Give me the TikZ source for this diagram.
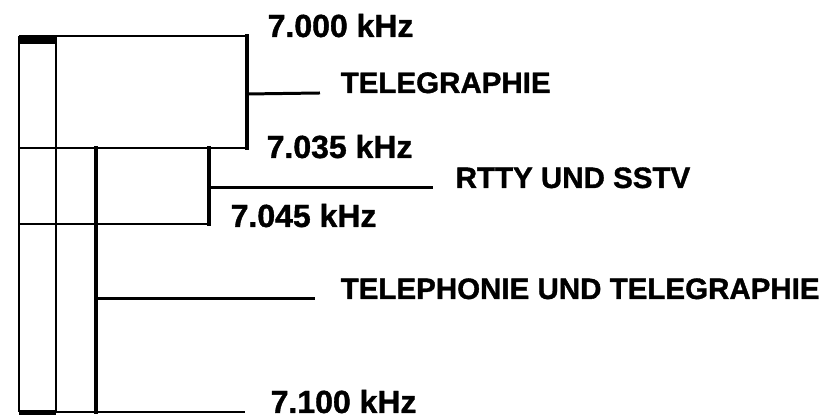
\documentclass[tikz,border=0pt]{standalone}
\usepackage{fontspec}
\setmainfont{Liberation Sans}[BoldFeatures={FakeBold=1.2}]
\begin{document}
\begin{tikzpicture}[
        thinline/.style={line width=0.55pt},
        thickline/.style={line width=1pt, line cap=rect},
        tickline/.style={line width=0.85pt},
        freq/.style={anchor=base west, inner sep=0pt, font=\fontsize{9.1}{10}\selectfont\bfseries},
        band/.style={anchor=base west, inner sep=0pt, font=\fontsize{8.4}{10}\selectfont\bfseries}]
        \useasboundingbox (0,0) rectangle (8.27,4.16);
        % Frequenzen und Bereiche
        \node[freq] (f7000) at (2.67,3.79) {7.000 kHz};
        \node[freq] (f7035) at (2.66,2.58) {7.035 kHz};
        \node[freq] (f7045) at (2.30,1.89) {7.045 kHz};
        \node[freq] (f7100) at (2.70,0.03) {7.100 kHz};
        \node[band] (telegraphie) at (3.40,3.23) {TELEGRAPHIE};
        \node[band] (rtty) at (4.55,2.28) {RTTY UND SSTV};
        \node[band] (telephonie) at (3.40,1.17) {TELEPHONIE UND TELEGRAPHIE};
        % linke Spalten
        \draw [thinline] (0.19,3.80) -- (0.19,0.04);
        \draw [thinline] (0.56,3.80) -- (0.56,0.04);
        \fill [black] (0.19,3.72) rectangle (0.56,3.81);
        \fill [black] (0.19,0.01) rectangle (0.56,0.06);
        % Telegraphie
        \draw [thinline] (0.19,3.80) -- (2.47,3.80);
        \draw [thickline] (2.47,3.80) -- (2.47,2.68);
        \draw [thinline] (0.19,2.68) -- (2.47,2.68);
        \draw [tickline] (2.47,3.22) -- ([xshift=-2.0mm]telegraphie.base west);
        % RTTY und SSTV
        \draw [thickline] (2.09,2.68) -- (2.09,1.92);
        \draw [thinline] (0.19,1.92) -- (2.09,1.92);
        \draw [tickline] (2.09,2.28) -- ([xshift=-2.2mm]rtty.base west);
        % Telephonie und Telegraphie
        \draw [thickline] (0.96,2.68) -- (0.96,0.04);
        \draw [thinline] (0.19,0.04) -- (2.45,0.04);
        \draw [tickline] (0.96,1.17) -- ([xshift=-2.5mm]telephonie.base west);
    \end{tikzpicture}
\end{document}
